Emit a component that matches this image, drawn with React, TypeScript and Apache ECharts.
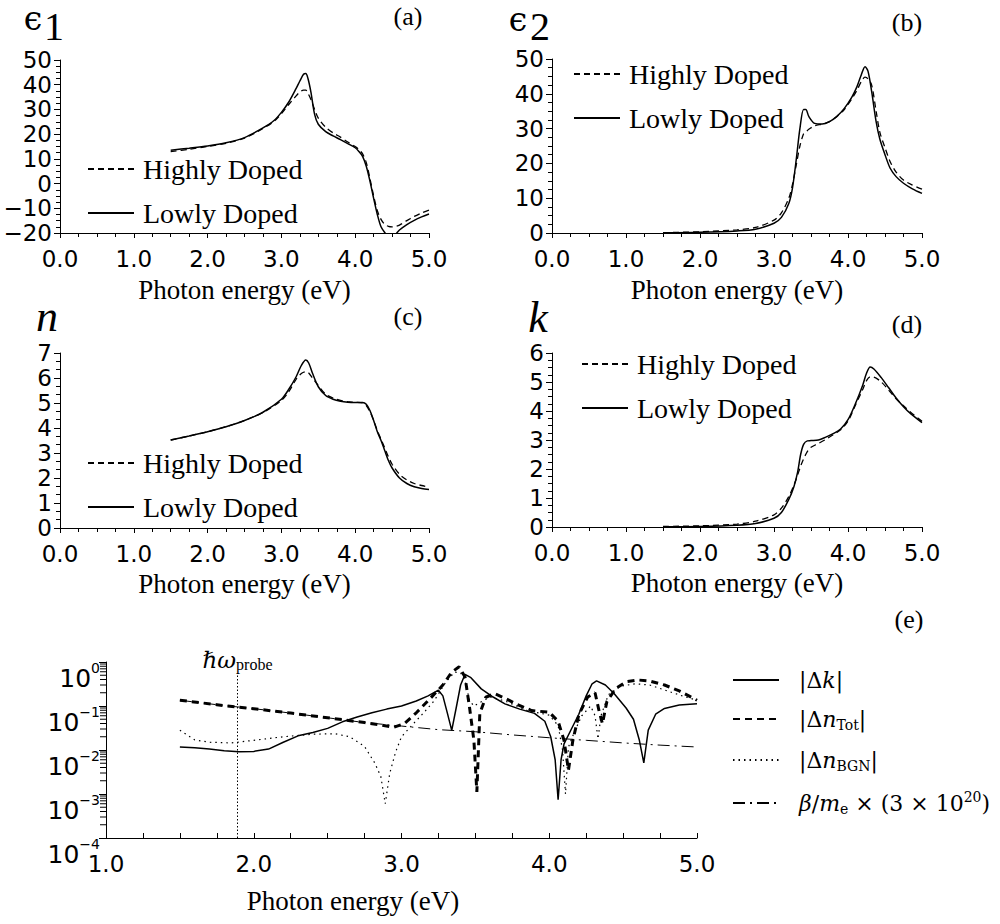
import React, { useEffect, useRef } from 'react';
import * as echarts from 'echarts';

// ---------------- data ----------------
// (a) epsilon_1
const energyEps1 = [1.5, 1.75, 2.0, 2.25, 2.5, 2.75, 2.9, 3.0, 3.1, 3.2, 3.25, 3.3, 3.33, 3.36, 3.4, 3.45, 3.5, 3.6, 3.7, 3.8, 3.9, 4.0, 4.05, 4.1, 4.15, 4.2, 4.25, 4.3, 4.35, 4.4, 4.45, 4.5, 4.55, 4.6, 4.7, 4.8, 4.9, 5.0];
const eps1Lowly = [13.5, 14.3, 15.2, 16.5, 18.6, 22.5, 25.5, 28.8, 33.0, 38.5, 41.5, 44.2, 44.5, 42.5, 37, 28, 24, 21, 19.3, 17.8, 16.2, 14.5, 13.0, 11, 7, 1, -6, -12.5, -17.5, -19.8, -21.5, -22, -20.5, -18.8, -16.6, -14.9, -13.5, -12.3];
const eps1Highly = [12.9, 13.9, 15.0, 16.3, 18.4, 22.3, 25.2, 28.3, 32.0, 35.5, 37, 37.8, 37.8, 36.5, 34, 30, 26.5, 22.8, 20.5, 18.8, 16.8, 15, 13.8, 12, 8.5, 2, -5, -11, -14.5, -16.5, -17.3, -17.5, -17.3, -16.8, -15.0, -13.3, -11.9, -10.7];

// (b) epsilon_2
const energyEps2 = [1.5, 2.0, 2.5, 2.75, 3.0, 3.1, 3.2, 3.25, 3.3, 3.35, 3.4, 3.43, 3.47, 3.55, 3.65, 3.75, 3.85, 3.95, 4.05, 4.12, 4.18, 4.23, 4.27, 4.32, 4.38, 4.43, 4.5, 4.57, 4.65, 4.75, 4.87, 5.0];
const eps2Lowly = [0.05, 0.2, 0.6, 1.1, 2.8, 4.5, 8.5, 13, 21, 30, 35.5, 35.5, 33.5, 31.5, 31.3, 32, 33.5, 35.8, 39, 42, 45.5, 47.8, 46.5, 40.6, 32, 27, 22.5, 18.6, 16.2, 14.3, 12.7, 11.4];
const eps2Highly = [0.1, 0.35, 0.9, 1.6, 3.7, 5.8, 10, 14, 19.5, 25, 28.5, 29, 29.8, 30.8, 31.3, 32, 33.5, 35.5, 38.5, 41, 43.5, 44.8, 44.3, 42.5, 35, 29, 24.5, 20.5, 17.5, 15.2, 13.8, 12.6];

// (c) n
const energyN = [1.5, 1.75, 2.0, 2.25, 2.5, 2.75, 3.0, 3.1, 3.2, 3.27, 3.33, 3.37, 3.42, 3.5, 3.6, 3.7, 3.8, 3.9, 4.0, 4.1, 4.15, 4.2, 4.25, 4.3, 4.35, 4.4, 4.45, 4.5, 4.6, 4.7, 4.8, 4.9, 5.0];
const nLowly = [3.52, 3.68, 3.85, 4.05, 4.3, 4.63, 5.15, 5.55, 6.05, 6.5, 6.72, 6.6, 6.2, 5.65, 5.3, 5.15, 5.07, 5.03, 5.02, 5.02, 4.95, 4.7, 4.3, 3.85, 3.5, 3.1, 2.7, 2.4, 2.0, 1.78, 1.65, 1.58, 1.54];
const nHighly = [3.52, 3.68, 3.85, 4.05, 4.3, 4.62, 5.1, 5.45, 5.95, 6.18, 6.25, 6.2, 6.0, 5.7, 5.35, 5.2, 5.1, 5.05, 5.03, 5.0, 4.9, 4.65, 4.3, 3.9, 3.55, 3.2, 2.85, 2.55, 2.15, 1.92, 1.78, 1.7, 1.64];

// (d) k
const energyK = [1.5, 2.0, 2.5, 2.75, 3.0, 3.1, 3.2, 3.27, 3.32, 3.36, 3.4, 3.45, 3.5, 3.6, 3.7, 3.8, 3.9, 4.0, 4.1, 4.2, 4.25, 4.3, 4.35, 4.45, 4.55, 4.65, 4.75, 4.85, 5.0];
const kLowly = [0.01, 0.02, 0.06, 0.12, 0.3, 0.5, 0.95, 1.4, 1.9, 2.5, 2.85, 2.97, 2.98, 3.0, 3.1, 3.22, 3.38, 3.7, 4.25, 4.9, 5.3, 5.52, 5.45, 5.15, 4.8, 4.45, 4.15, 3.9, 3.6];
const kHighly = [0.02, 0.04, 0.1, 0.2, 0.42, 0.65, 1.05, 1.45, 1.8, 2.1, 2.35, 2.6, 2.75, 2.88, 3.02, 3.18, 3.35, 3.65, 4.2, 4.75, 5.05, 5.18, 5.17, 5.0, 4.72, 4.42, 4.18, 3.95, 3.65];

// (e) differences, [photon energy (eV), magnitude]
const deltaK = [[1.5, 0.0117], [1.6, 0.0112], [1.7, 0.0105], [1.8, 0.0096], [1.9, 0.0091], [2.0, 0.0093], [2.1, 0.0105], [2.2, 0.015], [2.3, 0.021], [2.4, 0.025], [2.5, 0.031], [2.6, 0.0437], [2.7, 0.056], [2.8, 0.07], [2.9, 0.085], [3.0, 0.1], [3.1, 0.13], [3.18, 0.17], [3.25, 0.229], [3.28, 0.17], [3.31, 0.07], [3.34, 0.028], [3.37, 0.09], [3.4, 0.3], [3.43, 0.525], [3.47, 0.44], [3.54, 0.245], [3.62, 0.16], [3.7, 0.112], [3.8, 0.085], [3.9, 0.068], [3.97, 0.045], [4.01, 0.02], [4.04, 0.006], [4.06, 0.00074], [4.08, 0.006], [4.1, 0.0138], [4.15, 0.03], [4.2, 0.065], [4.25, 0.17], [4.29, 0.32], [4.32, 0.372], [4.38, 0.3], [4.44, 0.19], [4.52, 0.09], [4.57, 0.05], [4.61, 0.0166], [4.64, 0.0051], [4.67, 0.0282], [4.72, 0.065], [4.78, 0.088], [4.88, 0.105], [5.0, 0.112]];
const deltaNTot = [[1.5, 0.135], [1.75, 0.107], [1.88, 0.095], [2.0, 0.087], [2.25, 0.069], [2.5, 0.054], [2.75, 0.042], [2.95, 0.033], [3.02, 0.04], [3.1, 0.07], [3.2, 0.155], [3.28, 0.3], [3.34, 0.589], [3.39, 0.776], [3.43, 0.457], [3.46, 0.0955], [3.49, 0.0166], [3.51, 0.00112], [3.53, 0.0676], [3.57, 0.158], [3.63, 0.191], [3.7, 0.15], [3.78, 0.11], [3.88, 0.079], [4.0, 0.072], [4.06, 0.045], [4.1, 0.0166], [4.13, 0.0035], [4.16, 0.0166], [4.2, 0.063], [4.26, 0.16], [4.31, 0.2], [4.34, 0.07], [4.36, 0.04], [4.39, 0.126], [4.45, 0.25], [4.52, 0.355], [4.6, 0.39], [4.68, 0.37], [4.78, 0.3], [4.88, 0.22], [5.0, 0.135]];
const deltaNBGN = [[1.5, 0.0282], [1.6, 0.017], [1.7, 0.015], [1.85, 0.0145], [2.0, 0.0166], [2.2, 0.02], [2.4, 0.0229], [2.55, 0.0234], [2.65, 0.02], [2.75, 0.012], [2.82, 0.005], [2.86, 0.0025], [2.89, 0.0006], [2.92, 0.0029], [2.96, 0.009], [3.0, 0.02], [3.07, 0.0363], [3.15, 0.07], [3.22, 0.13], [3.3, 0.35], [3.36, 0.589], [3.4, 0.57], [3.43, 0.38], [3.46, 0.135], [3.49, 0.1], [3.53, 0.12], [3.6, 0.16], [3.7, 0.13], [3.85, 0.079], [4.0, 0.062], [4.06, 0.036], [4.09, 0.01], [4.11, 0.001], [4.13, 0.0117], [4.17, 0.0257], [4.22, 0.06], [4.28, 0.1], [4.31, 0.06], [4.33, 0.0178], [4.35, 0.06], [4.4, 0.18], [4.48, 0.28], [4.58, 0.32], [4.68, 0.3], [4.8, 0.22], [4.9, 0.17], [5.0, 0.135]];
const betaOverMe = [[1.5, 0.135], [1.75, 0.107], [2.0, 0.087], [2.25, 0.069], [2.5, 0.054], [2.75, 0.042], [3.0, 0.035], [3.25, 0.029], [3.5, 0.026], [3.75, 0.022], [4.0, 0.019], [4.25, 0.0166], [4.5, 0.0145], [4.75, 0.0129], [5.0, 0.0117]];
const probeEnergy = 1.89;

// log-axis minor tick positions (axis decoration)
const logMinorTicks = [
  0.0002, 0.0003, 0.0004, 0.0005, 0.0006, 0.0007, 0.0008, 0.0009,
  0.002, 0.003, 0.004, 0.005, 0.006, 0.007, 0.008, 0.009,
  0.02, 0.03, 0.04, 0.05, 0.06, 0.07, 0.08, 0.09,
  0.2, 0.3, 0.4, 0.5, 0.6, 0.7, 0.8, 0.9,
];

const legendNamesTop = ['Highly Doped', 'Lowly Doped'];
const legendNamesE = ['|Δk|', '|ΔnTot|', '|ΔnBGN|', 'β/me × (3 × 10^20)'];
const xAxisTitle = 'Photon energy (eV)';

// ---------------- styles ----------------
const SERIF = '"Liberation Serif", "Times New Roman", serif';
const SANS = '"DejaVu Sans", sans-serif';
const MSERIF = '"DejaVu Serif", serif';
const BLACK = '#000';

const zip = (xs: number[], ys: number[]) => xs.map((x, i) => [x, ys[i]]);

const topPanels = [
  { grid: { left: 60, top: 60, width: 369, height: 173 }, y: [-20, 50, 10, 4], energy: energyEps1, high: eps1Highly, low: eps1Lowly, legend: { left: 82, top: 150 }, nameGap: 43 },
  { grid: { left: 552, top: 59, width: 370, height: 174 }, y: [0, 50, 10, 4], energy: energyEps2, high: eps2Highly, low: eps2Lowly, legend: { left: 568, top: 55 }, nameGap: 43 },
  { grid: { left: 60, top: 353, width: 369, height: 175 }, y: [0, 7, 1, 3], energy: energyN, high: nHighly, low: nLowly, legend: { left: 82, top: 444 }, nameGap: 42 },
  { grid: { left: 552, top: 353, width: 370, height: 174 }, y: [0, 6, 1, 4], energy: energyK, high: kHighly, low: kLowly, legend: { left: 576, top: 345 }, nameGap: 42 },
];

const gridE = { left: 106, top: 662, width: 591, height: 176 };

const hiddenSymbol = { opacity: 0, color: 'rgba(0,0,0,0)', borderWidth: 0 };

function buildOption() {
  const grids: any[] = topPanels.map((p) => ({ ...p.grid, containLabel: false, outerBoundsMode: 'none' }));
  grids.push({ ...gridE, containLabel: false, outerBoundsMode: 'none' });

  const xAxes: any[] = topPanels.map((p, i) => ({
    gridIndex: i,
    type: 'value',
    min: 0,
    max: 5,
    interval: 1,
    axisLine: { show: true, onZero: false, lineStyle: { color: BLACK, width: 1 } },
    axisTick: { show: true, inside: false, length: 5, lineStyle: { color: BLACK } },
    minorTick: { show: true, splitNumber: 4, length: 4, lineStyle: { color: BLACK } },
    splitLine: { show: false },
    minorSplitLine: { show: false },
    axisLabel: { formatter: (v: number) => v.toFixed(1), fontFamily: SANS, fontSize: 23, color: BLACK, margin: 14 },
    name: xAxisTitle,
    nameLocation: 'middle',
    nameGap: p.nameGap,
    nameTextStyle: { fontFamily: SERIF, fontSize: 27, color: BLACK },
  }));
  xAxes.push({
    gridIndex: 4,
    type: 'value',
    min: 1,
    max: 5,
    interval: 1,
    axisLine: { show: true, onZero: false, lineStyle: { color: BLACK, width: 1 } },
    axisTick: { show: true, inside: true, length: 5, lineStyle: { color: BLACK } },
    minorTick: { show: true, splitNumber: 4, length: 5, lineStyle: { color: BLACK } },
    splitLine: { show: false },
    minorSplitLine: { show: false },
    axisLabel: { formatter: (v: number) => v.toFixed(1), fontFamily: SANS, fontSize: 23, color: BLACK, margin: 14 },
  });

  const yAxes: any[] = topPanels.map((p, i) => ({
    gridIndex: i,
    type: 'value',
    min: p.y[0],
    max: p.y[1],
    interval: p.y[2],
    axisLine: { show: true, onZero: false, lineStyle: { color: BLACK, width: 1 } },
    axisTick: { show: true, inside: false, length: 6, lineStyle: { color: BLACK } },
    minorTick: { show: true, splitNumber: p.y[3], length: 4, lineStyle: { color: BLACK } },
    splitLine: { show: false },
    minorSplitLine: { show: false },
    axisLabel: { formatter: (v: number) => String(v).replace('-', '−'), fontFamily: SANS, fontSize: 23, color: BLACK, margin: 8 },
  }));
  yAxes.push({
    gridIndex: 4,
    type: 'log',
    logBase: 10,
    min: 0.0001,
    max: 1,
    axisLine: { show: true, onZero: false, lineStyle: { color: BLACK, width: 1 } },
    axisTick: { show: true, inside: false, length: 7, lineStyle: { color: BLACK } },
    minorTick: { show: false },
    splitLine: { show: false },
    axisLabel: {
      margin: 6,
      padding: [22, 0, 0, 0],
      formatter: (v: number) => {
        const e = Math.round(Math.log10(v));
        return `{b|10}{s|${e === 0 ? '0' : '−' + Math.abs(e)}}`;
      },
      rich: {
        b: { fontFamily: SANS, fontSize: 25, lineHeight: 25, padding: [10, 0, 0, 0], color: BLACK },
        s: { fontFamily: SANS, fontSize: 14, lineHeight: 14, verticalAlign: 'top', color: BLACK },
      },
    },
  });

  const series: any[] = [];
  topPanels.forEach((p, i) => {
    series.push({
      type: 'line',
      name: 'Highly Doped',
      xAxisIndex: i,
      yAxisIndex: i,
      data: zip(p.energy, p.high),
      symbol: 'none',
      smooth: 0.3,
      silent: true,
      itemStyle: { color: BLACK },
      lineStyle: { color: BLACK, width: 1.3, type: [6, 4] },
    });
    series.push({
      type: 'line',
      name: 'Lowly Doped',
      xAxisIndex: i,
      yAxisIndex: i,
      data: zip(p.energy, p.low),
      symbol: 'none',
      smooth: 0.3,
      silent: true,
      itemStyle: { color: BLACK },
      lineStyle: { color: BLACK, width: 1.5, type: 'solid' },
    });
  });

  series.push({
    type: 'line',
    name: legendNamesE[3],
    xAxisIndex: 4,
    yAxisIndex: 4,
    data: betaOverMe,
    symbol: 'none',
    silent: true,
    itemStyle: { color: BLACK },
    lineStyle: { color: BLACK, width: 1, type: [12, 5, 2, 5] },
    markLine: {
      silent: true,
      symbol: ['none', 'none'],
      lineStyle: { color: BLACK, width: 1, type: [1.5, 2] },
      label: {
        show: true,
        position: 'end',
        distance: 1,
        formatter: '{h|ℏω}{p|probe}',
        rich: {
          h: { fontFamily: MSERIF, fontStyle: 'italic', fontSize: 23, lineHeight: 24, color: BLACK },
          p: { fontFamily: SERIF, fontSize: 16, lineHeight: 16, verticalAlign: 'bottom', color: BLACK },
        },
      },
      data: [[{ coord: [probeEnergy, 0.0001] }, { coord: [probeEnergy, 0.56] }]],
    },
  });
  series.push({
    type: 'line',
    name: legendNamesE[2],
    xAxisIndex: 4,
    yAxisIndex: 4,
    data: deltaNBGN,
    symbol: 'none',
    silent: true,
    itemStyle: { color: BLACK },
    lineStyle: { color: BLACK, width: 1.2, type: [1.5, 4] },
  });
  series.push({
    type: 'line',
    name: legendNamesE[1],
    xAxisIndex: 4,
    yAxisIndex: 4,
    data: deltaNTot,
    symbol: 'none',
    silent: true,
    itemStyle: { color: BLACK },
    lineStyle: { color: BLACK, width: 3, type: [7, 5] },
  });
  series.push({
    type: 'line',
    name: legendNamesE[0],
    xAxisIndex: 4,
    yAxisIndex: 4,
    data: deltaK,
    symbol: 'none',
    silent: true,
    itemStyle: { color: BLACK },
    lineStyle: { color: BLACK, width: 1.5, type: 'solid' },
  });
  series.push({
    type: 'custom',
    xAxisIndex: 4,
    yAxisIndex: 4,
    silent: true,
    clip: false,
    data: logMinorTicks.map((v) => [1, v]),
    renderItem: (params: any, api: any) => {
      const p = api.coord([api.value(0), api.value(1)]);
      return {
        type: 'line',
        shape: { x1: p[0] - 6, y1: p[1], x2: p[0], y2: p[1] },
        style: { stroke: BLACK, lineWidth: 1 },
      };
    },
  });

  const legends: any[] = topPanels.map((p) => ({
    ...p.legend,
    orient: 'vertical',
    itemWidth: 46,
    itemHeight: 14,
    itemGap: 16,
    selectedMode: false,
    data: legendNamesTop,
    itemStyle: hiddenSymbol,
    textStyle: { fontFamily: SERIF, fontSize: 28, lineHeight: 28, color: BLACK, padding: [0, 0, 0, 4] },
  }));
  const richE = {
    r: { fontFamily: MSERIF, fontSize: 22, lineHeight: 26, color: BLACK },
    i: { fontFamily: MSERIF, fontStyle: 'italic', fontSize: 22, lineHeight: 26, color: BLACK },
    sub: { fontFamily: MSERIF, fontSize: 14, lineHeight: 14, verticalAlign: 'bottom', color: BLACK },
    sup: { fontFamily: MSERIF, fontSize: 14, lineHeight: 14, verticalAlign: 'top', color: BLACK },
  };
  const labelE: Record<string, string> = {
    [legendNamesE[0]]: '{r||Δ}{i|k}{r||}',
    [legendNamesE[1]]: '{r||Δ}{i|n}{sub|Tot}{r||}',
    [legendNamesE[2]]: '{r||Δ}{i|n}{sub|BGN}{r||}',
    [legendNamesE[3]]: '{i|β}{r|/}{i|m}{sub|e}{r| × (3 × 10}{sup|20}{r|)}',
  };
  legends.push({
    left: 727,
    top: 664,
    orient: 'vertical',
    itemWidth: 46,
    itemHeight: 14,
    itemGap: 17,
    selectedMode: false,
    data: legendNamesE,
    itemStyle: hiddenSymbol,
    formatter: (name: string) => labelE[name],
    textStyle: { padding: [0, 0, 0, 15], rich: richE },
  });

  const txt = (text: string, x: number, y: number, font: string) => ({
    type: 'text',
    x,
    y,
    silent: true,
    style: { text, font, fill: BLACK, align: 'center', verticalAlign: 'middle', textAlign: 'center', textVerticalAlign: 'middle' },
  });

  const graphic = [
    txt('ϵ', 33, 18, `33px ${MSERIF}`),
    txt('1', 54, 26, `40px ${SERIF}`),
    txt('ϵ', 518, 19, `33px ${MSERIF}`),
    txt('2', 540, 26, `40px ${SERIF}`),
    txt('n', 47, 316, `italic 44px ${SERIF}`),
    txt('k', 538, 317, `italic 44px ${SERIF}`),
    txt('(a)', 408, 16, `26px ${SERIF}`),
    txt('(b)', 907, 22, `26px ${SERIF}`),
    txt('(c)', 408, 316, `26px ${SERIF}`),
    txt('(d)', 907, 324, `26px ${SERIF}`),
    txt('(e)', 909, 619, `26px ${SERIF}`),
    txt(xAxisTitle, 353, 901, `27px ${SERIF}`),
  ];

  return {
    animation: false,
    backgroundColor: '#fff',
    textStyle: { fontFamily: SANS, color: BLACK },
    grid: grids,
    xAxis: xAxes,
    yAxis: yAxes,
    legend: legends,
    series,
    graphic,
  };
}

export default function App() {
  const ref = useRef<HTMLDivElement>(null);
  useEffect(() => {
    if (!ref.current) return;
    const chart = echarts.init(ref.current, null, { renderer: 'svg' });
    chart.setOption(buildOption() as any);
    return () => chart.dispose();
  }, []);
  return (
    <div
      ref={ref}
      style={{ position: 'absolute', left: 0, top: 0, width: 1000, height: 924, background: '#fff' }}
    />
  );
}
